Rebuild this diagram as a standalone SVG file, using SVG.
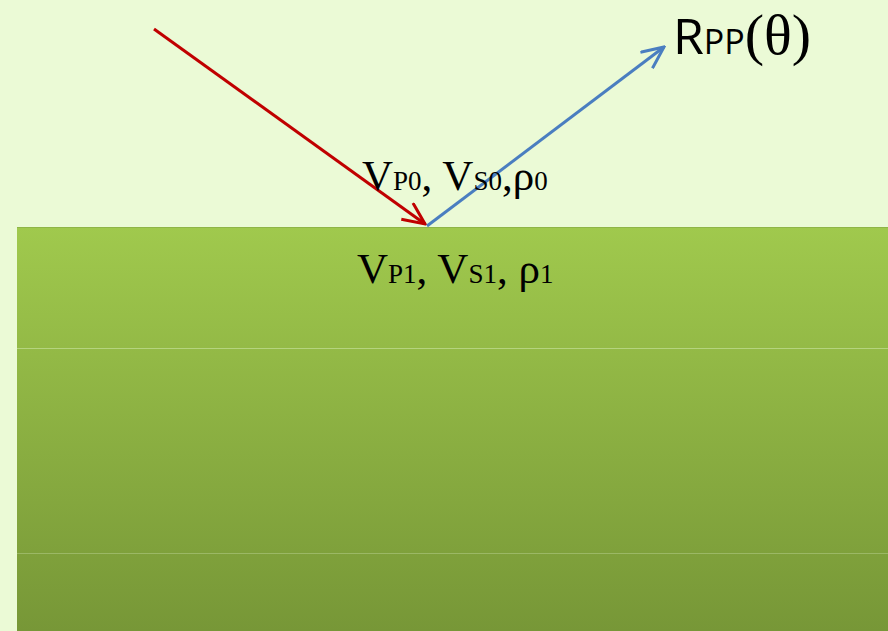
<svg xmlns="http://www.w3.org/2000/svg" width="888" height="631" viewBox="0 0 888 631">
<defs>
<linearGradient id="g" x1="0" y1="0" x2="0" y2="1">
<stop offset="0" stop-color="#A0C94D"/>
<stop offset="1" stop-color="#779737"/>
</linearGradient>
<marker id="ar" viewBox="0 0 26 22" refX="24" refY="11" markerWidth="26" markerHeight="22" markerUnits="userSpaceOnUse" orient="auto"><path d="M2,1 L24,11 L2,21" fill="none" stroke="#C00000" stroke-width="3"/></marker>
<marker id="ab" viewBox="0 0 26 22" refX="24" refY="11" markerWidth="26" markerHeight="22" markerUnits="userSpaceOnUse" orient="auto"><path d="M2,1 L24,11 L2,21" fill="none" stroke="#4A7EC0" stroke-width="3"/></marker>
<style>
.t{font-family:"Liberation Serif",serif;fill:#000}
.big{font-size:43px}
.sm{font-size:27px}
.sans{font-family:"Open Sans","Liberation Sans",sans-serif;fill:#000}
</style>
</defs>
<rect width="888" height="631" fill="#EBFAD6"/>
<g id="layer1">
<rect x="17" y="227" width="871" height="404" fill="url(#g)"/>
<line x1="17" y1="227.5" x2="888" y2="227.5" stroke="#8FB547" stroke-width="1"/>
<line x1="17" y1="348.5" x2="888" y2="348.5" stroke="#B5D47E" stroke-width="1"/>
<line x1="17" y1="553.5" x2="888" y2="553.5" stroke="#9BB865" stroke-width="1"/>
</g>
<g id="connectors" fill="none" stroke-width="3">
<line x1="154" y1="29" x2="425" y2="224" stroke="#C00000" marker-end="url(#ar)"/>
<line x1="427" y1="226" x2="664" y2="47" stroke="#4A7EC0" marker-end="url(#ab)"/>
</g>
<g id="label0">
<text class="t" x="362" y="190"><tspan class="big">V</tspan><tspan class="sm">P0</tspan><tspan class="big">, V</tspan><tspan class="sm">S0</tspan><tspan class="big">,ρ</tspan><tspan class="sm">0</tspan></text>
</g>
<g id="label1">
<text class="t" x="357" y="283"><tspan class="big">V</tspan><tspan class="sm">P1</tspan><tspan class="big">, V</tspan><tspan class="sm">S1</tspan><tspan class="big">, ρ</tspan><tspan class="sm">1</tspan></text>
</g>
<g id="rpp">
<text x="673" y="54"><tspan class="sans" font-size="50">R</tspan><tspan class="sans" font-size="34">PP</tspan><tspan class="t" font-size="58">(θ)</tspan></text>
</g>
</svg>
